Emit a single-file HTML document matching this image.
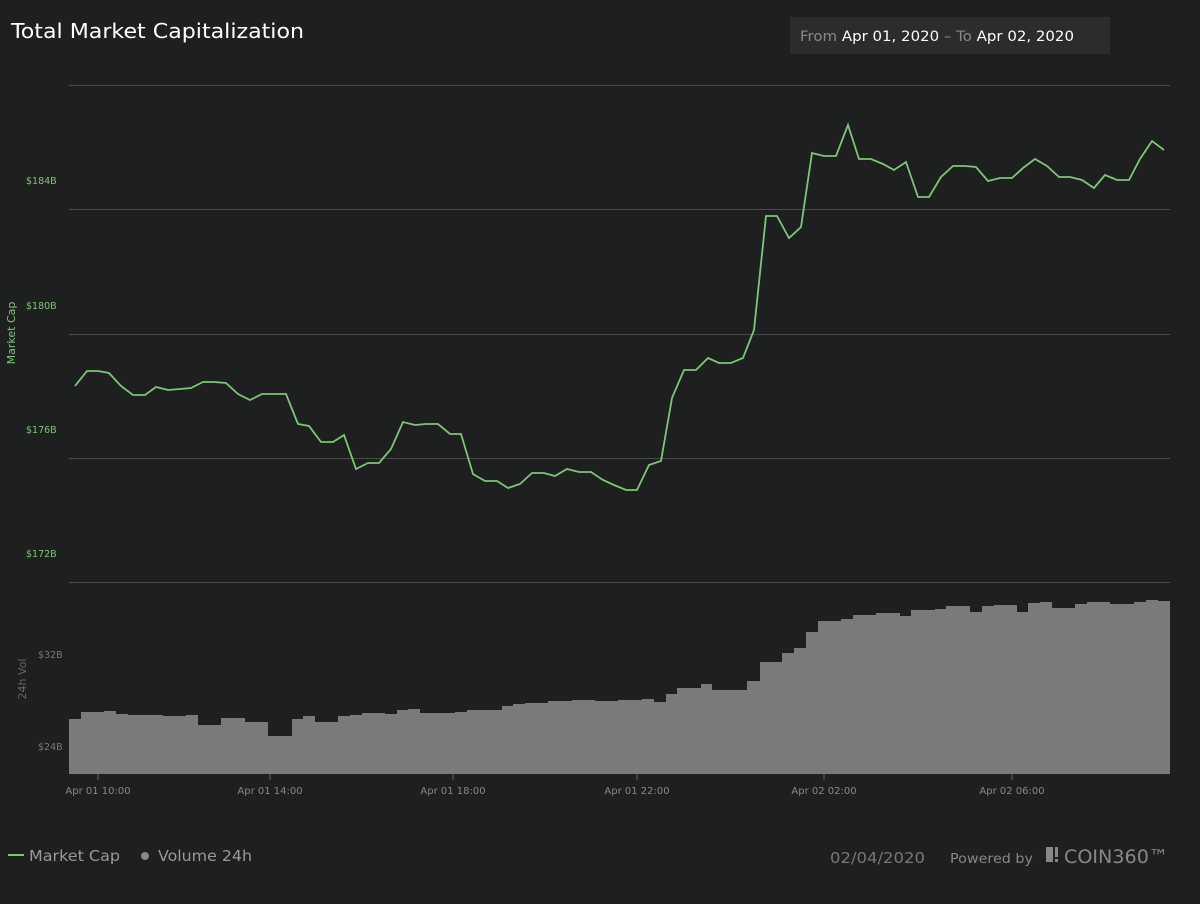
<!DOCTYPE html>
<html><head><meta charset="utf-8"><style>
body{margin:0;background:#1e1f1f;width:1200px;height:900px;overflow:hidden;font-family:"DejaVu Sans",sans-serif}
</style></head><body>
<svg width="1200" height="900" xmlns="http://www.w3.org/2000/svg" font-family="DejaVu Sans, sans-serif">
<rect width="1200" height="900" fill="#1e1f1f"/>
<text x="11" y="38" fill="#ffffff" font-size="20" textLength="293" lengthAdjust="spacingAndGlyphs">Total Market Capitalization</text>
<rect x="790" y="17" width="320" height="37" fill="#2b2c2c"/>
<text x="800" y="41" font-size="14" fill="#888" textLength="274" lengthAdjust="spacingAndGlyphs">From <tspan fill="#fff">Apr 01, 2020</tspan> – To <tspan fill="#fff">Apr 02, 2020</tspan></text>
<g stroke="#4a4b4b" stroke-width="1">
<line x1="69" y1="85.5" x2="1170" y2="85.5"/><line x1="69" y1="209.5" x2="1170" y2="209.5"/>
<line x1="69" y1="334.5" x2="1170" y2="334.5"/><line x1="69" y1="458.5" x2="1170" y2="458.5"/>
<line x1="69" y1="582.5" x2="1170" y2="582.5"/></g>
<g fill="#7ec57a" font-size="9.5">
<text x="26" y="184">$184B</text><text x="26" y="309">$180B</text><text x="26" y="433">$176B</text><text x="26" y="557">$172B</text></g>
<text transform="translate(15,333) rotate(-90)" fill="#7ec57a" font-size="11" text-anchor="middle">Market Cap</text>
<g fill="#777" font-size="9.5"><text x="38" y="658">$32B</text><text x="38" y="750">$24B</text></g>
<text transform="translate(26,679) rotate(-90)" fill="#666" font-size="11" text-anchor="middle">24h Vol</text>
<path fill="#7a7a7a" d="M69,774 V719 H81 V712 H104 V711 H116 V714 H128 V715 H163 V716 H186 V715 H198 V725 H221 V718 H245 V722 H268 V736 H292 V719 H303 V716 H315 V722 H338 V716 H350 V715 H362 V713 H385 V714 H397 V710 H408 V709 H420 V713 H455 V712 H467 V710 H502 V706 H513 V704 H525 V703 H548 V701 H572 V700 H595 V701 H618 V700 H642 V699 H654 V702 H666 V694 H677 V688 H701 V684 H712 V690 H747 V681 H760 V662 H782 V653 H794 V648 H806 V632 H818 V621 H841 V619 H853 V615 H876 V613 H900 V616 H911 V610 H935 V609 H946 V606 H970 V612 H982 V606 H994 V605 H1017 V612 H1028 V603 H1040 V602 H1052 V608 H1075 V604 H1087 V602 H1110 V604 H1134 V602 H1146 V600 H1158 V601 H1170 V774 Z"/>
<polyline fill="none" stroke="#7ec57a" stroke-width="1.8" points="75,386 87,371 98,371 109,373 121,386 133,395 145,395 156,387 168,390 180,389 191,388 203,382 214,382 226,383 238,394 250,400 262,394 274,394 286,394 298,424 309,426 321,442 333,442 344,435 356,469 368,463 379,463 391,449 403,422 415,425 426,424 438,424 450,434 461,434 473,474 485,481 497,481 508,488 520,484 532,473 544,473 555,476 567,469 579,472 591,472 603,480 614,485 626,490 637,490 649,465 661,461 672,398 684,370 696,370 708,358 719,363 731,363 743,358 754,330 766,216 777,216 789,238 801,227 812,153 824,156 836,156 848,125 859,159 871,159 883,164 894,170 906,162 918,197 929,197 941,177 953,166 965,166 976,167 988,181 1000,178 1012,178 1023,168 1035,159 1047,166 1059,177 1070,177 1082,180 1094,188 1105,175 1117,180 1129,180 1140,159 1152,141 1164,150"/>
<g stroke="#666"><line x1="98" y1="774" x2="98" y2="780"/><line x1="270" y1="774" x2="270" y2="780"/><line x1="453" y1="774" x2="453" y2="780"/><line x1="637" y1="774" x2="637" y2="780"/><line x1="824" y1="774" x2="824" y2="780"/><line x1="1012" y1="774" x2="1012" y2="780"/></g>
<g fill="#888" font-size="10" text-anchor="middle">
<text x="98" y="794">Apr 01 10:00</text><text x="270" y="794">Apr 01 14:00</text><text x="453" y="794">Apr 01 18:00</text><text x="637" y="794">Apr 01 22:00</text><text x="824" y="794">Apr 02 02:00</text><text x="1012" y="794">Apr 02 06:00</text></g>
<line x1="8" y1="855" x2="24" y2="855" stroke="#7ec57a" stroke-width="2"/>
<text x="29" y="861" fill="#999" font-size="15" textLength="91" lengthAdjust="spacingAndGlyphs">Market Cap</text>
<circle cx="145" cy="856" r="4" fill="#888"/>
<text x="158" y="861" fill="#999" font-size="15" textLength="94" lengthAdjust="spacingAndGlyphs">Volume 24h</text>
<text x="830" y="863" fill="#777" font-size="15" textLength="95" lengthAdjust="spacingAndGlyphs">02/04/2020</text>
<text x="950" y="863" fill="#888" font-size="13" textLength="83" lengthAdjust="spacingAndGlyphs">Powered by</text>
<rect x="1046" y="847" width="7" height="15" fill="#888"/><rect x="1055" y="847" width="3" height="10" fill="#888"/><rect x="1055" y="859" width="3" height="3" fill="#888"/>
<text x="1064" y="863" fill="#888" font-size="19" textLength="104" lengthAdjust="spacingAndGlyphs">COIN360™</text>
</svg>
</body></html>
